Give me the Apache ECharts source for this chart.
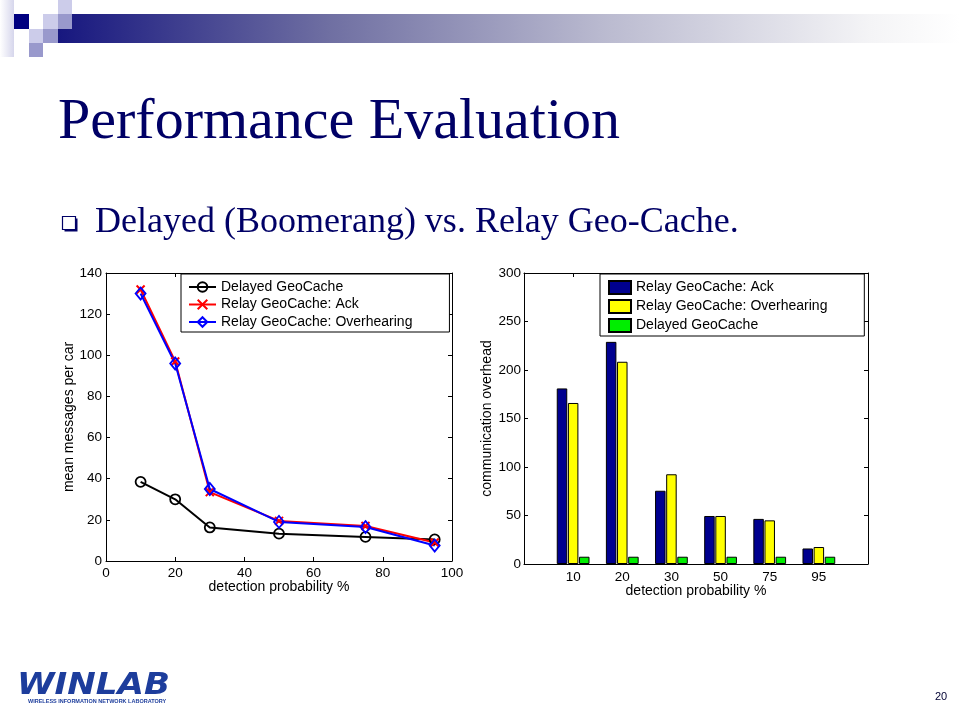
<!DOCTYPE html>
<html><head><meta charset="utf-8">
<script src="https://cdn.jsdelivr.net/npm/echarts@6/dist/echarts.min.js"></script>
<style>html,body{margin:0;padding:0;background:#fff}#c{width:960px;height:720px}</style>
</head><body><div id="c"></div>
<script>
// ---- Left chart data (mean messages per car vs detection probability) ----
const probX = [10, 20, 30, 50, 75, 95];
const delayedMsgs = [38.5, 30, 16.3, 13.3, 11.7, 10.5];
const relayAckMsgs = [132, 97, 33.5, 19.5, 17, 9];
const relayOverMsgs = [130, 96, 35, 19, 16.5, 7.5];
const leftXTicks = {min: 0, max: 100, interval: 20};
const leftYTicks = {min: 0, max: 140, interval: 20};

// ---- Right chart data (communication overhead) ----
const barCategories = ['10', '20', '30', '50', '75', '95'];
const relayAckOverhead = [181, 229, 75.5, 49.5, 46.5, 16];
const relayOverOverhead = [166, 208.5, 92.5, 49.5, 45, 17.5];
const delayedOverhead = [7.5, 7.5, 7.5, 7.5, 7.5, 7.5];
const rightYTicks = {min: 0, max: 300, interval: 50};

const legendLine = ['Delayed GeoCache', 'Relay GeoCache: Ack', 'Relay GeoCache: Overhearing'];
// trailing space keeps bar legend entries distinct from the line-chart series
const legendBar = ['Relay GeoCache: Ack ', 'Relay GeoCache: Overhearing ', 'Delayed GeoCache '];

const FF = '"Liberation Sans", Arial, Helvetica, sans-serif';
const barAxisData = [''].concat(barCategories, [' ']);

const axLine = {show: true, onZero: false, lineStyle: {color: '#000', width: 1}};
const axTick = {show: true, inside: true, length: 4, lineStyle: {color: '#000', width: 1}};
const lbl = {color: '#000', fontSize: 13.5, fontFamily: FF};
const nameStyle = {color: '#000', fontSize: 14, fontFamily: FF};
const barTickFilter = (i) => i > 0 && i < barAxisData.length - 1;

const chart = echarts.init(document.getElementById('c'), null, {renderer: 'canvas'});

const option = {
  animation: false,
  backgroundColor: '#fff',
  grid: [
    {left: 106, top: 273, width: 346, height: 288, outerBoundsMode: 'none', containLabel: false},
    {left: 524, top: 273, width: 344, height: 291, outerBoundsMode: 'none', containLabel: false}
  ],
  xAxis: [
    {gridIndex: 0, type: 'value', position: 'bottom', ...leftXTicks,
     axisLine: axLine, axisTick: axTick, splitLine: {show: false},
     axisLabel: {...lbl, margin: 5},
     name: 'detection probability %', nameLocation: 'middle', nameGap: 19, nameMoveOverlap: false,
     nameTextStyle: nameStyle},
    {gridIndex: 0, type: 'value', position: 'top', ...leftXTicks,
     axisLine: axLine, axisTick: axTick, splitLine: {show: false}, axisLabel: {show: false}},
    {gridIndex: 1, type: 'category', position: 'bottom', data: barAxisData, boundaryGap: false,
     axisLine: axLine, axisTick: {...axTick, interval: barTickFilter}, splitLine: {show: false},
     axisLabel: {...lbl, interval: 0, margin: 6},
     name: 'detection probability %', nameLocation: 'middle', nameGap: 20, nameMoveOverlap: false,
     nameTextStyle: nameStyle},
    {gridIndex: 1, type: 'category', position: 'top', data: barAxisData, boundaryGap: false,
     axisLine: axLine, axisTick: {...axTick, interval: barTickFilter}, splitLine: {show: false},
     axisLabel: {show: false}}
  ],
  yAxis: [
    {gridIndex: 0, type: 'value', position: 'left', ...leftYTicks,
     axisLine: axLine, axisTick: axTick, splitLine: {show: false},
     axisLabel: {...lbl, margin: 4},
     name: 'mean messages per car', nameLocation: 'middle', nameGap: 30, nameMoveOverlap: false,
     nameTextStyle: nameStyle},
    {gridIndex: 0, type: 'value', position: 'right', ...leftYTicks,
     axisLine: axLine, axisTick: axTick, splitLine: {show: false}, axisLabel: {show: false}},
    {gridIndex: 1, type: 'value', position: 'left', ...rightYTicks,
     axisLine: axLine, axisTick: axTick, splitLine: {show: false},
     axisLabel: {...lbl, margin: 3},
     name: 'communication overhead', nameLocation: 'middle', nameGap: 30, nameMoveOverlap: false,
     nameTextStyle: nameStyle},
    {gridIndex: 1, type: 'value', position: 'right', ...rightYTicks,
     axisLine: axLine, axisTick: axTick, splitLine: {show: false}, axisLabel: {show: false}}
  ],
  legend: [
    {data: legendLine, orient: 'vertical', left: 181, top: 274,
     itemWidth: 27, itemHeight: 12, itemGap: 3.5, padding: [6, 37, 3, 7],
     backgroundColor: '#fff', borderColor: '#000', borderWidth: 1, borderRadius: 0,
     selectedMode: false, textStyle: {color: '#000', fontSize: 14, fontFamily: FF}},
    {data: legendBar, orient: 'vertical', left: 600, top: 274, icon: 'rect',
     itemWidth: 22, itemHeight: 13, itemGap: 4, padding: [6, 33, 3, 8],
     backgroundColor: '#fff', borderColor: '#000', borderWidth: 1, borderRadius: 0,
     selectedMode: false, textStyle: {color: '#000', fontSize: 14, fontFamily: FF}}
  ],
  series: [
    {name: legendLine[0], type: 'line', xAxisIndex: 0, yAxisIndex: 0,
     data: probX.map((x, i) => [x, delayedMsgs[i]]),
     color: '#000', symbol: 'circle', symbolSize: 10,
     lineStyle: {color: '#000', width: 2},
     itemStyle: {color: 'rgba(0,0,0,0)', borderColor: '#000', borderWidth: 1.8}},
    {name: legendLine[1], type: 'line', xAxisIndex: 0, yAxisIndex: 0,
     data: probX.map((x, i) => [x, relayAckMsgs[i]]),
     color: '#ff0000', symbol: 'path://M0,0L10,10M10,0L0,10', symbolSize: 8,
     lineStyle: {color: '#ff0000', width: 2},
     itemStyle: {color: 'rgba(0,0,0,0)', borderColor: '#ff0000', borderWidth: 2}},
    {name: legendLine[2], type: 'line', xAxisIndex: 0, yAxisIndex: 0,
     data: probX.map((x, i) => [x, relayOverMsgs[i]]),
     color: '#0000ff', symbol: 'diamond', symbolSize: [10, 12],
     lineStyle: {color: '#0000ff', width: 2},
     itemStyle: {color: 'rgba(0,0,0,0)', borderColor: '#0000ff', borderWidth: 1.8}},
    {name: legendBar[0], type: 'bar', xAxisIndex: 2, yAxisIndex: 2,
     data: barCategories.map((c, i) => [c, relayAckOverhead[i]]),
     barWidth: 10.5, barGap: '6%', color: '#00008f',
     itemStyle: {color: '#00008f', borderColor: '#000', borderWidth: 1}},
    {name: legendBar[1], type: 'bar', xAxisIndex: 2, yAxisIndex: 2,
     data: barCategories.map((c, i) => [c, relayOverOverhead[i]]),
     barWidth: 10.5, barGap: '6%', color: '#ffff00',
     itemStyle: {color: '#ffff00', borderColor: '#000', borderWidth: 1}},
    {name: legendBar[2], type: 'bar', xAxisIndex: 2, yAxisIndex: 2,
     data: barCategories.map((c, i) => [c, delayedOverhead[i]]),
     barWidth: 10.5, barGap: '6%', color: '#00ee00',
     itemStyle: {color: '#00ee00', borderColor: '#000', borderWidth: 1}}
  ],
  graphic: {elements: [
    // header decoration
    {type: 'rect', shape: {x: 0, y: 0, width: 14, height: 57}, silent: true,
     style: {fill: new echarts.graphic.LinearGradient(0, 0, 1, 0, [{offset: 0, color: '#ffffff'}, {offset: 1, color: '#d6d6ec'}])}},
    {type: 'rect', shape: {x: 58, y: 14, width: 902, height: 29}, silent: true,
     style: {fill: new echarts.graphic.LinearGradient(0, 0, 1, 0, [
       {offset: 0, color: '#17177f'}, {offset: 0.3, color: '#6f6fa2'},
       {offset: 0.6, color: '#b9b9cf'}, {offset: 0.9, color: '#f4f4f6'}, {offset: 1, color: '#ffffff'}])}},
    {type: 'rect', shape: {x: 14, y: 14, width: 15, height: 15}, silent: true, style: {fill: '#000080'}},
    {type: 'rect', shape: {x: 43, y: 14, width: 15, height: 15}, silent: true, style: {fill: '#ccccea'}},
    {type: 'rect', shape: {x: 58, y: 0, width: 14, height: 14}, silent: true, style: {fill: '#ccccea'}},
    {type: 'rect', shape: {x: 58, y: 14, width: 14, height: 15}, silent: true, style: {fill: '#9999cc'}},
    {type: 'rect', shape: {x: 29, y: 29, width: 14, height: 14}, silent: true, style: {fill: '#ccccea'}},
    {type: 'rect', shape: {x: 43, y: 29, width: 15, height: 14}, silent: true, style: {fill: '#9999cc'}},
    {type: 'rect', shape: {x: 29, y: 43, width: 14, height: 14}, silent: true, style: {fill: '#9999cc'}},
    // title and bullet
    {type: 'text', x: 58, y: 123, silent: true,
     style: {text: 'Performance Evaluation', font: '58px "Liberation Serif", "Times New Roman", serif',
             fill: '#000066', verticalAlign: 'middle', align: 'left'}},
    {type: 'rect', shape: {x: 64.5, y: 218.5, width: 13, height: 13}, silent: true, style: {fill: '#000066'}},
    {type: 'rect', shape: {x: 62.5, y: 216.5, width: 13, height: 13}, silent: true,
     style: {fill: '#fff', stroke: '#000066', lineWidth: 1.2}},
    {type: 'text', x: 95, y: 223, silent: true,
     style: {text: 'Delayed (Boomerang) vs. Relay Geo-Cache.', font: '36px "Liberation Serif", "Times New Roman", serif',
             fill: '#000066', verticalAlign: 'middle', align: 'left'}},
    // footer
    {type: 'text', x: 17, y: 686, scaleX: 1.1, silent: true,
     style: {text: 'WINLAB', font: 'italic bold 31px "DejaVu Sans", sans-serif', fill: '#1d3d9c',
             verticalAlign: 'middle', align: 'left'}},
    {type: 'text', x: 28, y: 701, silent: true,
     style: {text: 'WIRELESS INFORMATION NETWORK LABORATORY', font: 'bold 5.5px "Liberation Sans", Arial, sans-serif',
             fill: '#1d3d9c', verticalAlign: 'middle', align: 'left'}},
    {type: 'text', x: 941, y: 697, silent: true,
     style: {text: '20', font: '11px "Liberation Sans", Arial, sans-serif', fill: '#000033',
             verticalAlign: 'middle', align: 'center'}}
  ]}
};
chart.setOption(option);
</script>
</body></html>
